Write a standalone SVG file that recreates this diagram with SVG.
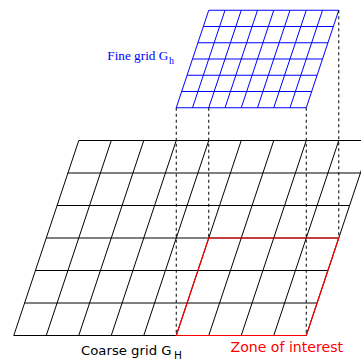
<svg xmlns="http://www.w3.org/2000/svg" width="361" height="360" viewBox="0 0 361 360">
<style>
.coarse{stroke:#000;stroke-width:1;fill:none}
.fine{stroke:#0000ff;stroke-width:1;fill:none}
.zone{stroke:#ff0000;stroke-width:1.2;fill:none}
.dash{stroke:#000;stroke-width:1;stroke-dasharray:3,3;fill:none}
.sans{font-family:'DejaVu Sans','Bitstream Vera Sans',Verdana,sans-serif}
.serif{font-family:'Liberation Serif','Times New Roman',serif}
</style>
<rect width="361" height="360" fill="#fff"/>
<g id="coarse-grid" class="coarse">
<path d="M13.75,335.5H306.25 M24.58,303H317.08 M35.42,270.5H327.92 M46.25,238H338.75 M57.08,205.5H349.58 M67.92,173H360.42 M78.75,140.5H371.25"/>
<path d="M13.75,335.5L78.75,140.5 M46.25,335.5L111.25,140.5 M78.75,335.5L143.75,140.5 M111.25,335.5L176.25,140.5 M143.75,335.5L208.75,140.5 M176.25,335.5L241.25,140.5 M208.75,335.5L273.75,140.5 M241.25,335.5L306.25,140.5 M273.75,335.5L338.75,140.5 M306.25,335.5L371.25,140.5"/>
</g>
<g id="zone-of-interest">
<path class="zone" d="M176.25,335.5H306.25L338.75,238H208.75Z"/>
</g>
<g id="fine-grid" class="fine">
<path d="M176.25,107.75H306.25 M181.67,91.5H311.67 M187.08,75.25H317.08 M192.5,59H322.5 M197.92,42.75H327.92 M203.33,26.5H333.33 M208.75,10.25H338.75"/>
<path d="M176.25,107.75L208.75,10.25 M192.5,107.75L225,10.25 M208.75,107.75L241.25,10.25 M225,107.75L257.5,10.25 M241.25,107.75L273.75,10.25 M257.5,107.75L290,10.25 M273.75,107.75L306.25,10.25 M290,107.75L322.5,10.25 M306.25,107.75L338.75,10.25"/>
</g>
<g id="connectors" class="dash">
<path d="M176.25,107.75V335.5"/>
<path d="M208.75,107.75V238"/>
<path d="M306.25,107.75V335.5"/>
<path d="M338.75,10.25V238"/>
</g>
<g id="label-fine">
<text class="serif" x="107.3" y="60" font-size="13" fill="#0000ff" textLength="61" lengthAdjust="spacingAndGlyphs">Fine grid G</text>
<text class="serif" x="169" y="64" font-size="10" fill="#0000ff">h</text>
</g>
<g id="label-coarse">
<text class="sans" x="81" y="354.5" font-size="13" fill="#000" textLength="90.5" lengthAdjust="spacingAndGlyphs">Coarse grid G</text>
<text class="sans" x="174" y="358.5" font-size="10.5" fill="#000">H</text>
</g>
<g id="label-zone">
<text class="sans" x="230.5" y="352.3" font-size="14" fill="#ff0000" textLength="112.5" lengthAdjust="spacingAndGlyphs">Zone of interest</text>
</g>
</svg>
